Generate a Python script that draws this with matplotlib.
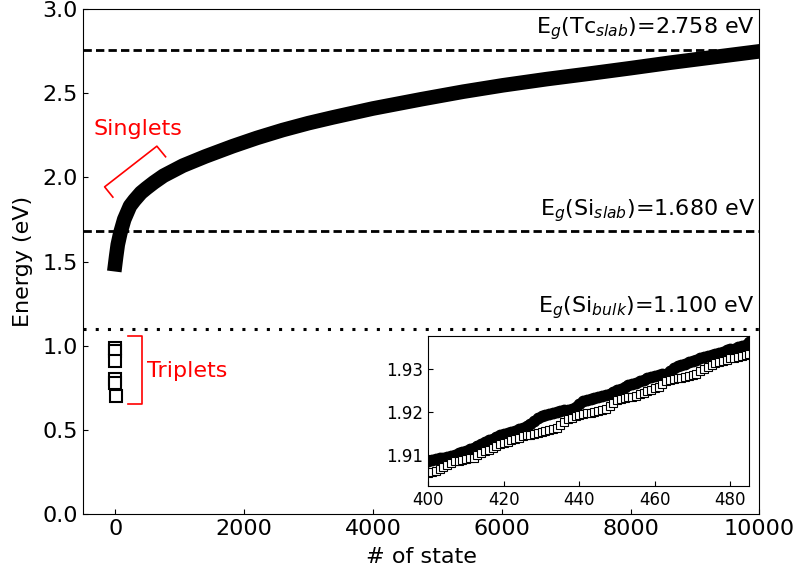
import numpy as np
import matplotlib
matplotlib.use("Agg")
import matplotlib.pyplot as plt

plt.rcParams['font.size'] = 16
plt.rcParams['xtick.direction'] = 'in'
plt.rcParams['ytick.direction'] = 'in'

# singlet energies (state index, eV)
singlet_state = [0, 15, 40, 80, 140, 230, 300, 400, 485, 600, 750,
                 1050, 1400, 1826, 2200, 2601, 3000, 3377, 4000, 4750,
                 5400, 6018, 6700, 7312, 8000, 8604, 9300, 10000]
singlet_E = [1.484, 1.53, 1.60, 1.67, 1.75, 1.83, 1.865, 1.909,
             1.936, 1.97, 2.01, 2.07, 2.125, 2.186, 2.235, 2.282, 2.323,
             2.357, 2.41, 2.465, 2.51, 2.548, 2.585, 2.615, 2.65, 2.682,
             2.716, 2.75]

# triplets (all near state 0)
triplet_state = [0, 1, 2, 3, 4, 5]
triplet_E = [0.984, 0.965, 0.91, 0.80, 0.78, 0.70]

# gap references
gap_tc_slab = 2.758
gap_si_slab = 1.680
gap_si_bulk = 1.100

# inset: states 400..485
inset_state = np.arange(400, 486)
inset_filled = [
    1.9088, 1.9089, 1.9091, 1.9093, 1.9095, 1.9097, 1.9099, 1.9102, 1.9105, 1.9108,
    1.9111, 1.9114, 1.9117, 1.9122, 1.9127, 1.9132, 1.9136, 1.9139, 1.9142, 1.9146,
    1.9149, 1.9152, 1.9155, 1.9157, 1.9160, 1.9163, 1.9167, 1.9173, 1.9180, 1.9186,
    1.9190, 1.9194, 1.9196, 1.9198, 1.9200, 1.9202, 1.9204, 1.9206, 1.9208, 1.9211,
    1.9218, 1.9225, 1.9228, 1.9230, 1.9232, 1.9235, 1.9237, 1.9240, 1.9243, 1.9247,
    1.9251, 1.9254, 1.9258, 1.9262, 1.9265, 1.9268, 1.9271, 1.9274, 1.9278, 1.9281,
    1.9284, 1.9285, 1.9287, 1.9289, 1.9295, 1.9301, 1.9306, 1.9309, 1.9312, 1.9315,
    1.9318, 1.9321, 1.9324, 1.9327, 1.9330, 1.9333, 1.9335, 1.9337, 1.9340, 1.9343,
    1.9345, 1.9347, 1.9350, 1.9352, 1.9356, 1.9363]
inset_open = [
    1.9060, 1.9062, 1.9064, 1.9068, 1.9073, 1.9078, 1.9082, 1.9086, 1.9088, 1.9090,
    1.9092, 1.9093, 1.9095, 1.9100, 1.9105, 1.9110, 1.9113, 1.9118, 1.9122, 1.9126,
    1.9129, 1.9132, 1.9135, 1.9138, 1.9141, 1.9144, 1.9146, 1.9148, 1.9150, 1.9152,
    1.9154, 1.9156, 1.9158, 1.9161, 1.9164, 1.9170, 1.9177, 1.9183, 1.9187, 1.9190,
    1.9193, 1.9195, 1.9197, 1.9199, 1.9201, 1.9203, 1.9205, 1.9208, 1.9214, 1.9222,
    1.9228, 1.9230, 1.9232, 1.9234, 1.9236, 1.9238, 1.9241, 1.9245, 1.9249, 1.9252,
    1.9255, 1.9259, 1.9265, 1.9271, 1.9274, 1.9276, 1.9278, 1.9280, 1.9282, 1.9284,
    1.9286, 1.9289, 1.9294, 1.9300, 1.9305, 1.9309, 1.9313, 1.9316, 1.9319, 1.9321,
    1.9324, 1.9326, 1.9328, 1.9330, 1.9332, 1.9334]

fig = plt.figure(figsize=(7.97, 5.71), dpi=100)
ax = fig.add_axes([0.1041, 0.1003, 0.8488, 0.8834])

ax.plot(singlet_state, singlet_E, color='k', lw=10.5,
        solid_capstyle='projecting', solid_joinstyle='round')
ax.plot(triplet_state, triplet_E, 's', ms=9, mfc='white', mec='k', mew=1.5)

ax.axhline(gap_tc_slab, color='k', lw=2, ls=(0, (3, 1.5)))
ax.axhline(gap_si_slab, color='k', lw=2, ls=(0, (3, 1.5)))
ax.axhline(gap_si_bulk, color='k', lw=2.2, ls=(0, (1, 3)))

ax.text(9930, gap_tc_slab + 0.045, r'E$_g$(Tc$_{slab}$)=%.3f eV' % gap_tc_slab,
        ha='right', va='bottom')
ax.text(9930, gap_si_slab + 0.045, r'E$_g$(Si$_{slab}$)=%.3f eV' % gap_si_slab,
        ha='right', va='bottom')
ax.text(9930, gap_si_bulk + 0.045, r'E$_g$(Si$_{bulk}$)=%.3f eV' % gap_si_bulk,
        ha='right', va='bottom')

# red brackets and labels
ax.plot([-36, -164, 647, 782], [1.883, 1.944, 2.186, 2.123], color='red', lw=1.2)
ax.text(-340, 2.29, 'Singlets', color='red', va='center')
ax.plot([202, 419, 419, 202], [1.055, 1.055, 0.655, 0.655], color='red', lw=1.2)
ax.text(500, 0.85, 'Triplets', color='red', va='center')

ax.set_xlim(-500, 10000)
ax.set_ylim(0, 3.0)
ax.set_xticks(np.arange(0, 10001, 2000))
ax.set_yticks(np.arange(0, 3.01, 0.5))
ax.set_xlabel('# of state', labelpad=6)
ax.set_ylabel('Energy (eV)', labelpad=7)

ins = fig.add_axes([0.5374, 0.1494, 0.4028, 0.2622])
ins.plot(inset_state, inset_filled, 'o', color='k', ms=7.5)
ins.plot(inset_state, inset_open, 's', ms=5.5, mfc='white', mec='k', mew=0.8)
ins.set_xlim(400, 485)
ins.set_ylim(1.903, 1.9376)
ins.set_xticks([400, 420, 440, 460, 480])
ins.set_yticks([1.91, 1.92, 1.93])
ins.tick_params(labelsize=12)

fig.savefig('out.png', dpi=100)
